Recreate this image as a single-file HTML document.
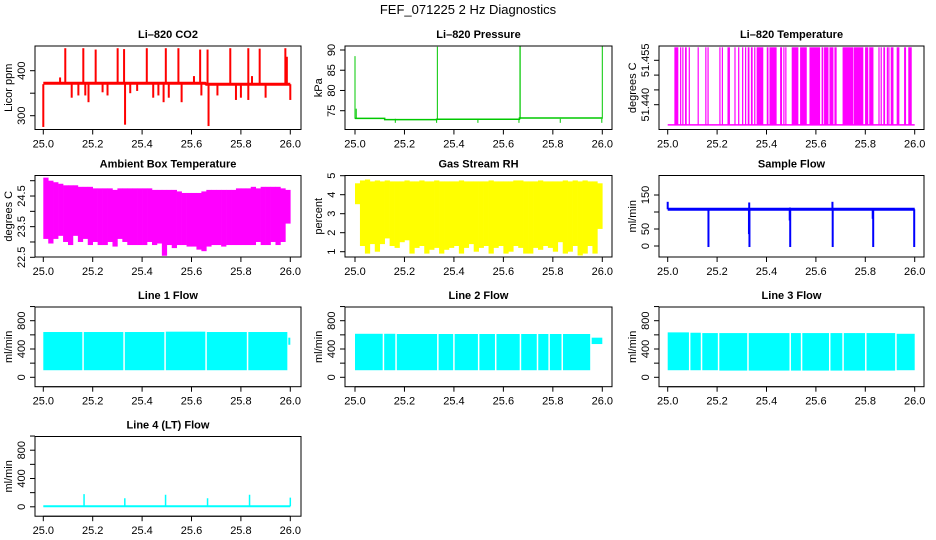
<!DOCTYPE html>
<html><head><meta charset="utf-8"><style>
html,body{margin:0;padding:0;background:#fff;}
svg{display:block;font-family:"Liberation Sans",Arial,sans-serif;}
</style></head><body>
<svg id="chart" width="936" height="540" viewBox="0 0 936 540" xmlns="http://www.w3.org/2000/svg">
<rect width="936" height="540" fill="#fff"/>
<text x="468" y="14" font-size="13" text-anchor="middle">FEF_071225  2 Hz Diagnostics</text>
</svg>
<script>
// ---------- data ----------
const xTickVals = [25.0, 25.2, 25.4, 25.6, 25.8, 26.0];
const xTickLabels = ['25.0', '25.2', '25.4', '25.6', '25.8', '26.0'];

const co2BaseX = [25.0, 25.655, 25.66, 26.0];
const co2BaseY = [372, 372, 370, 370];
const co2SpikeX = [25.0, 25.068, 25.089, 25.162, 25.212, 25.301, 25.327, 25.331, 25.419, 25.496, 25.547, 25.635, 25.665, 25.669, 25.757, 25.876, 25.980, 25.986, 26.0, 25.115, 25.142, 25.17, 25.183, 25.24, 25.26, 25.352, 25.38, 25.445, 25.466, 25.487, 25.508, 25.56, 25.61, 25.64, 25.705, 25.78, 25.8, 25.83, 25.83, 25.845, 25.9];
const co2SpikeY = [275, 385, 450, 450, 447, 450, 448, 280, 450, 450, 450, 447, 447, 277, 450, 449, 450, 431, 335, 340, 345, 345, 330, 352, 345, 350, 355, 340, 345, 330, 340, 330, 388, 345, 345, 335, 340, 450, 335, 388, 340];

const presBaseX = [25.0, 25.12, 25.12, 25.33, 25.33, 25.665, 25.665, 26.0];
const presBaseY = [73.1, 73.1, 72.8, 72.8, 72.9, 72.9, 73.2, 73.2];
const presSpikeX = [25.0, 25.005, 25.333, 25.667, 25.668, 26.0, 25.163, 25.33, 25.497, 25.663, 25.83, 25.998];
const presSpikeY = [88.5, 75.5, 90.8, 90.9, 90.9, 91.2, 72.0, 72.0, 72.0, 72.0, 72.0, 72.0];

const tempLow = 51.4332;
const tempHigh = 51.4594;
const tempHiStart = [25.027, 25.050, 25.059, 25.070, 25.085, 25.121, 25.152, 25.161, 25.209, 25.219, 25.242, 25.270, 25.285, 25.301, 25.313, 25.324, 25.337, 25.350, 25.360, 25.401, 25.412, 25.455, 25.468, 25.476, 25.502, 25.536, 25.574, 25.623, 25.633, 25.655, 25.675, 25.708, 25.754, 25.799, 25.816, 25.853, 25.862, 25.873, 25.887, 25.893, 25.903, 25.927, 25.957, 25.974];
const tempHiEnd   = [25.043, 25.052, 25.061, 25.077, 25.087, 25.123, 25.154, 25.163, 25.211, 25.221, 25.252, 25.274, 25.290, 25.306, 25.317, 25.331, 25.344, 25.355, 25.387, 25.408, 25.441, 25.463, 25.470, 25.478, 25.529, 25.563, 25.617, 25.630, 25.651, 25.671, 25.684, 25.752, 25.792, 25.812, 25.833, 25.855, 25.864, 25.880, 25.889, 25.895, 25.914, 25.938, 25.965, 25.988];

const ambHi = [25.1,25.0,24.95,24.9,24.85,24.85,24.85,24.8,24.8,24.8, 24.75,24.75,24.75,24.75,24.7,24.75,24.75,24.75,24.75,24.75, 24.75,24.75,24.7,24.7,24.7,24.7,24.7,24.65,24.6,24.6, 24.6,24.6,24.65,24.7,24.7,24.7,24.7,24.7,24.7,24.75, 24.75,24.75,24.8,24.75,24.8,24.8,24.8,24.8,24.75,24.7];
const ambLo = [23.1,22.95,23.1,23.2,23.0,22.9,23.2,23.0,23.1,22.9, 23.0,22.9,22.9,23.0,22.85,23.1,23.0,22.9,22.9,22.9, 22.9,23.0,22.9,22.95,22.55,22.9,22.8,22.9,22.9,22.85, 22.85,22.75,22.7,22.85,22.9,22.9,22.85,22.9,22.9,22.9, 22.9,22.9,22.9,23.0,22.9,22.9,23.0,22.9,23.0,23.6];

const rhHi = [4.6,4.75,4.8,4.7,4.75,4.7,4.75,4.7,4.7,4.7, 4.75,4.7,4.7,4.75,4.7,4.7,4.75,4.7,4.7,4.7, 4.7,4.75,4.7,4.7,4.7,4.7,4.7,4.75,4.7,4.7, 4.7,4.7,4.75,4.75,4.7,4.7,4.7,4.75,4.7,4.7, 4.7,4.7,4.75,4.7,4.75,4.7,4.75,4.7,4.7,4.6];
const rhLo = [3.5,1.3,0.9,1.4,1.0,1.4,1.7,1.3,1.2,1.5, 1.6,0.9,1.2,1.3,0.9,1.1,1.2,0.9,1.1,1.2, 1.3,0.9,1.2,1.4,1.0,1.2,1.3,0.9,1.2,1.3, 0.9,1.0,1.3,1.2,0.9,0.9,1.2,1.1,1.3,1.2, 1.0,1.5,0.9,1.0,1.3,0.8,0.9,1.3,0.9,2.2];

const sampleBase = 108;
const sampleSpikeX = [25.0, 25.33, 25.667, 25.495, 25.165, 25.331, 25.496, 25.668, 25.832, 25.998, 25.329, 25.494, 25.83];
const sampleSpikeY = [130, 128, 130, 113, -3, -3, -3, -3, -3, -3, 35, 75, 80];

const line1SegStart = [25.0, 25.164, 25.330, 25.496, 25.662, 25.830, 25.992];
const line1SegEnd   = [25.158, 25.324, 25.490, 25.656, 25.824, 25.988, 26.0];
const line1Hi = [640, 640, 640, 645, 640, 640, 560];
const line1Lo = [100, 100, 100, 100, 100, 100, 460];

const line2SegStart = [25.0, 25.118, 25.169, 25.338, 25.403, 25.503, 25.572, 25.672, 25.741, 25.788, 25.841, 25.957];
const line2SegEnd   = [25.112, 25.163, 25.332, 25.397, 25.497, 25.566, 25.666, 25.735, 25.782, 25.835, 25.951, 26.0];
const line2Hi = [615, 615, 612, 612, 612, 612, 612, 612, 612, 612, 612, 560];
const line2Lo = [100, 100, 100, 100, 100, 100, 100, 100, 100, 100, 100, 470];

const line3SegStart = [25.0, 25.092, 25.140, 25.209, 25.328, 25.499, 25.545, 25.659, 25.713, 25.805, 25.927];
const line3SegEnd   = [25.086, 25.134, 25.203, 25.322, 25.493, 25.539, 25.653, 25.707, 25.799, 25.921, 26.0];
const line3Hi = [635, 630, 625, 625, 625, 625, 625, 625, 625, 625, 615];
const line3Lo = [100, 100, 100, 95, 95, 95, 95, 95, 95, 95, 100];

const line4Base = 8;
const line4SpikeX = [25.165, 25.33, 25.495, 25.665, 25.835, 26.0];
const line4SpikeY = [180, 120, 170, 120, 170, 130];

// ---------- layout ----------
const NS = 'http://www.w3.org/2000/svg';
const svg = document.getElementById('chart');
const colBoxL = [35, 345, 659], colBoxR = [301, 612, 924];
const colX25 = [43.3, 355, 667.7], colX26 = [290.3, 602.3, 914.7];
const rowTop = [46, 175.5, 307, 436.5], rowBot = [129.5, 257, 386.7, 516.2];

function el(tag, attrs, parent) {
  const e = document.createElementNS(NS, tag);
  for (const k in attrs) e.setAttribute(k, attrs[k]);
  (parent || svg).appendChild(e);
  return e;
}

function panel(key, col, row, title, ylab, v1, p1, v2, p2, yTickVals, yTickLabels) {
  const g = el('g', {});
  
  
  const L = colBoxL[col], R = colBoxR[col], T = rowTop[row], B = rowBot[row];
  const sx = v => colX25[col] + (v - 25) * (colX26[col] - colX25[col]);
  const sy = v => p1 + (v - v1) * (p2 - p1) / (v2 - v1);
  const t = el('text', {x: (L + R) / 2, y: T - 8, 'font-size': 11, 'font-weight': 'bold', 'text-anchor': 'middle'}, g);
  t.textContent = title;
  
  
  const yl = el('text', {x: 0, y: 0, 'font-size': 11, 'text-anchor': 'middle', transform: 'translate(' + (L - 23) + ',' + ((T + B) / 2) + ') rotate(-90)'}, g);
  yl.textContent = ylab;
  
  
  const xa = el('g', {}, g);
  
  
  el('line', {x1: sx(xTickVals[0]), x2: sx(xTickVals[xTickVals.length - 1]), y1: B, y2: B, stroke: '#000'}, xa);
  xTickVals.forEach((v, i) => {
    el('line', {x1: sx(v), x2: sx(v), y1: B, y2: B + 5, stroke: '#000'}, xa);
    const tx = el('text', {x: sx(v), y: B + 18, 'font-size': 11, 'text-anchor': 'middle'}, xa);
    tx.textContent = xTickLabels[i];
    
    
  });
  const ya = el('g', {}, g);
  
  
  yTickVals.forEach((v, i) => {
    el('line', {x1: L - 5, x2: L, y1: sy(v), y2: sy(v), stroke: '#000'}, ya);
    if (yTickLabels[i]) {
      const ty = el('text', {x: 0, y: 0, 'font-size': 11, 'text-anchor': 'middle', transform: 'translate(' + (L - 10) + ',' + sy(v) + ') rotate(-90)'}, ya);
      ty.textContent = yTickLabels[i];
      
      
    }
  });
  const clipId = 'clip-' + key;
  const cp = el('clipPath', {id: clipId}, g);
  el('rect', {x: L, y: T, width: R - L, height: B - T}, cp);
  const data = el('g', {'clip-path': 'url(#' + clipId + ')'}, g);
  
  
  const box = el('rect', {x: L, y: T, width: R - L, height: B - T, fill: 'none', stroke: '#000', 'stroke-width': 1}, g);
  
  
  return {sx, sy, data};
}

function baseline(p, xs, ys, color, w) {
  const pl = el('polyline', {points: xs.map((x, i) => p.sx(x) + ',' + p.sy(ys[i])).join(' '), fill: 'none', stroke: color, 'stroke-width': w}, p.data);
  
  
}
function spikes(p, xs, ys, from, color, w) {
  xs.forEach((x, i) => {
    const ln = el('line', {x1: p.sx(x), x2: p.sx(x), y1: p.sy(from), y2: p.sy(ys[i]), stroke: color, 'stroke-width': w}, p.data);
    
    
  });
}
function envelope(p, hi, lo, color) {
  const n = hi.length;
  hi.forEach((h, i) => {
    const x0 = p.sx(25 + i / n), x1 = p.sx(25 + (i + 1) / n);
    const r = el('rect', {x: x0, y: p.sy(h), width: x1 - x0 + 0.3, height: p.sy(lo[i]) - p.sy(h), fill: color}, p.data);
    
    
  });
}
function segments(p, st, en, hi, lo, color) {
  st.forEach((s, i) => {
    const r = el('rect', {x: p.sx(s), y: p.sy(hi[i]), width: Math.max(1, p.sx(en[i]) - p.sx(s)), height: p.sy(lo[i]) - p.sy(hi[i]), fill: color}, p.data);
    
    
  });
}

// CO2
const pCO2 = panel('co2', 0, 0, 'Li\u2013820 CO2', 'Licor ppm', 300, 115.7, 400, 70.7, [300, 350, 400], ['300', '', '400']);
spikes(pCO2, co2SpikeX, co2SpikeY, 370, '#ff0000', 2);
baseline(pCO2, co2BaseX, co2BaseY, '#ff0000', 3);

// Pressure
const pP = panel('pressure', 1, 0, 'Li\u2013820 Pressure', 'kPa', 75, 110.7, 90, 50, [75, 80, 85, 90], ['75', '80', '85', '90']);
baseline(pP, presBaseX, presBaseY, '#00c800', 1.5);
spikes(pP, presSpikeX, presSpikeY, 73, '#00c800', 1);

// Temperature
const pT = panel('temperature', 2, 0, 'Li\u2013820 Temperature', 'degrees C', 51.440, 104.7, 51.455, 60.3, [51.440, 51.445, 51.450, 51.455], ['51.440', '', '', '51.455']);
baseline(pT, [25.0, 26.0], [tempLow, tempLow], '#ff00ff', 1.5);
tempHiStart.forEach((s, i) => {
  const r = el('rect', {x: pT.sx(s), y: pT.sy(tempHigh), width: Math.max(1.2, pT.sx(tempHiEnd[i]) - pT.sx(s)), height: pT.sy(tempLow) - pT.sy(tempHigh), fill: '#ff00ff'}, pT.data);
  
  
});

// Ambient
const pA = panel('ambient-temp', 0, 1, 'Ambient Box Temperature', 'degrees C', 22.5, 257.3, 25, 180.7, [22.5, 23, 23.5, 24, 24.5, 25], ['22.5', '', '23.5', '', '24.5', '']);
envelope(pA, ambHi, ambLo, '#ff00ff');

// RH
const pR = panel('gas-rh', 1, 1, 'Gas Stream RH', 'percent', 1, 251.7, 5, 175.7, [1, 2, 3, 4, 5], ['1', '2', '3', '4', '5']);
envelope(pR, rhHi, rhLo, '#ffff00');

// Sample flow
const pS = panel('sample-flow', 2, 1, 'Sample Flow', 'ml/min', 0, 246, 150, 195, [0, 50, 100, 150], ['0', '50', '', '150']);
spikes(pS, sampleSpikeX, sampleSpikeY, sampleBase, '#0000ff', 2);
baseline(pS, [25.0, 26.0], [sampleBase, sampleBase], '#0000ff', 3);

// Line flows
const lineTicks = [0, 200, 400, 600, 800, 1000], lineTickLabels = ['0', '', '400', '', '800', ''];
const p1 = panel('line1-flow', 0, 2, 'Line 1 Flow', 'ml/min', 0, 377.3, 800, 320.7, lineTicks, lineTickLabels);
segments(p1, line1SegStart, line1SegEnd, line1Hi, line1Lo, '#00ffff');
const p2 = panel('line2-flow', 1, 2, 'Line 2 Flow', 'ml/min', 0, 377.3, 800, 320.7, lineTicks, lineTickLabels);
segments(p2, line2SegStart, line2SegEnd, line2Hi, line2Lo, '#00ffff');
const p3 = panel('line3-flow', 2, 2, 'Line 3 Flow', 'ml/min', 0, 377.3, 800, 320.7, lineTicks, lineTickLabels);
segments(p3, line3SegStart, line3SegEnd, line3Hi, line3Lo, '#00ffff');
const p4 = panel('line4-flow', 0, 3, 'Line 4 (LT) Flow', 'ml/min', 0, 506.8, 800, 450.2, lineTicks, lineTickLabels);
spikes(p4, line4SpikeX, line4SpikeY, line4Base, '#00ffff', 1.5);
baseline(p4, [25.0, 26.0], [line4Base, line4Base], '#00ffff', 2);
</script>
</body></html>
